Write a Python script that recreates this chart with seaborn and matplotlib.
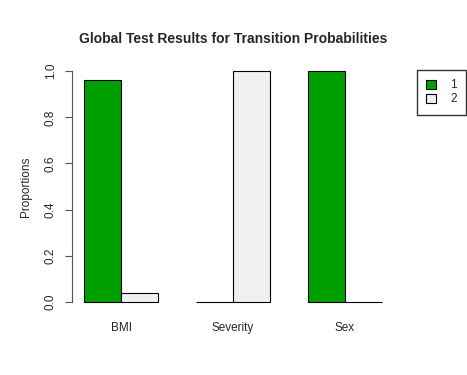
import pandas as pd
import seaborn as sns
import matplotlib.pyplot as plt

# values
variables = ["BMI", "Severity", "Sex"]
group_labels = ["1", "2"]
prop_group1 = [0.96, 0.0, 1.0]
prop_group2 = [0.04, 1.0, 0.0]

df = pd.DataFrame({
    "Variable": variables * 2,
    "Group": [group_labels[0]] * 3 + [group_labels[1]] * 3,
    "Proportion": prop_group1 + prop_group2,
})

sns.set_style("white")
plt.rcParams["font.family"] = ["Liberation Sans", "DejaVu Sans"]

fig = plt.figure(figsize=(4.67, 3.75), dpi=100)
ax = fig.add_axes([72 / 467, 64 / 375, 322 / 467, 249 / 375])

sns.barplot(data=df, x="Variable", y="Proportion", hue="Group",
            palette=["#00a000", "#f0f0f0"], width=2 / 3, gap=0,
            edgecolor="black", linewidth=0.8, saturation=1,
            legend=False, ax=ax)

ax.set_xlim(-0.44, 2.44)
ax.set_ylim(-0.04, 1.04)
ax.set_yticks([0, 0.2, 0.4, 0.6, 0.8, 1.0])
ax.set_yticklabels(["0.0", "0.2", "0.4", "0.6", "0.8", "1.0"], rotation=90,
                   va="center", fontsize=8.5)
ax.tick_params(axis="y", length=5, width=0.8, color="#555555", pad=6, left=True)
ax.tick_params(axis="x", length=0, pad=8, labelsize=8.5)
for s in ["top", "right", "bottom"]:
    ax.spines[s].set_visible(False)
ax.spines["left"].set_bounds(0, 1)
ax.spines["left"].set_color("#555555")
ax.spines["left"].set_linewidth(0.8)
ax.set_xlabel("")
ax.set_ylabel("Proportions", fontsize=8.5, labelpad=9)
ax.set_title("Global Test Results for Transition Probabilities",
             fontsize=10, fontweight="bold", pad=14)

handles = [plt.Rectangle((0, 0), 1, 1, facecolor=c, edgecolor="black", linewidth=0.8)
           for c in ["#00a000", "#f0f0f0"]]
fig.legend(handles, group_labels, loc="upper left",
           bbox_to_anchor=(417 / 467, 1 - 70 / 375), fontsize=8.5,
           frameon=True, fancybox=False, edgecolor="black",
           handlelength=0.8, handleheight=0.8, handletextpad=1.2,
           borderpad=0.8, labelspacing=0.15, borderaxespad=0)

plt.savefig("out.png", dpi=100)
